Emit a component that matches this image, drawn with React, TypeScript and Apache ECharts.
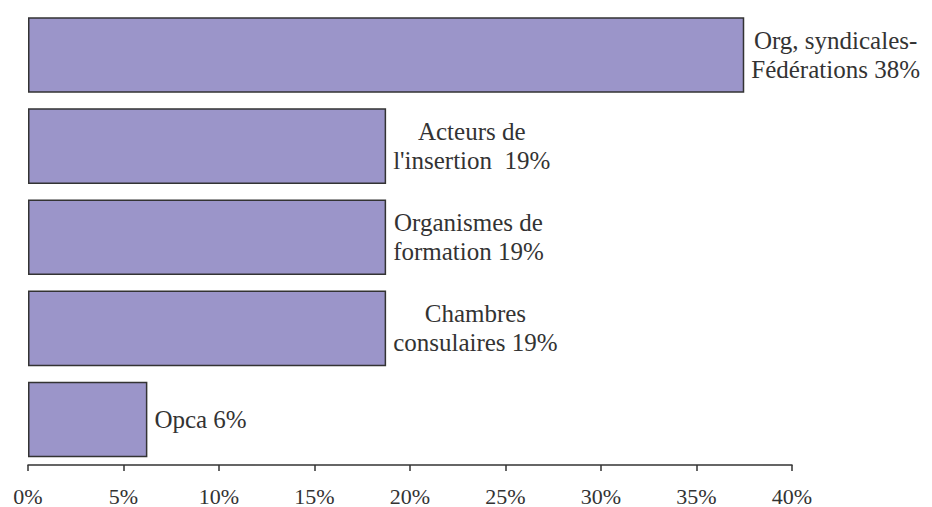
import React, { useEffect, useRef } from "react";
import * as echarts from "echarts";

const categories = [
  "Org, syndicales-|Fédérations",
  "Acteurs de|l'insertion ",
  "Organismes de|formation",
  "Chambres|consulaires",
  "Opca",
];
const values = [37.5, 18.75, 18.75, 18.75, 6.25];
const shownPercents = ["38%", "19%", "19%", "19%", "6%"];
const tickValues = [0, 5, 10, 15, 20, 25, 30, 35, 40];

const FONT = "Liberation Serif, Times New Roman, serif";

export default function App() {
  const ref = useRef<HTMLDivElement>(null);
  useEffect(() => {
    if (!ref.current) return;
    const chart = echarts.init(ref.current, undefined, { renderer: "svg" });
    chart.setOption({
      animation: false,
      backgroundColor: "#ffffff",
      grid: { left: 28, right: 140, top: 9.5, bottom: 40, containLabel: false },
      xAxis: {
        type: "value",
        min: tickValues[0],
        max: tickValues[tickValues.length - 1],
        interval: tickValues[1] - tickValues[0],
        axisLine: { show: true, lineStyle: { color: "#333", width: 1.5 } },
        axisTick: { show: true, length: 6, lineStyle: { color: "#333", width: 1.5 } },
        splitLine: { show: false },
        axisLabel: {
          formatter: "{value}%",
          color: "#333",
          fontFamily: FONT,
          fontSize: 22,
          margin: 20,
        },
      },
      yAxis: {
        type: "category",
        inverse: true,
        data: categories,
        axisLine: { show: false },
        axisTick: { show: false },
        axisLabel: { show: false },
      },
      series: [
        {
          type: "bar",
          data: values,
          barCategoryGap: "17%",
          itemStyle: { color: "#9b95c9", borderColor: "#333", borderWidth: 1.5 },
          label: {
            show: true,
            position: "right",
            distance: 7,
            fontFamily: FONT,
            fontSize: 25,
            color: "#333",
            formatter: (p: any) => {
              const lines = String(categories[p.dataIndex]).split("|");
              lines[lines.length - 1] += " " + shownPercents[p.dataIndex];
              return lines.map((l) => "{c|" + l + "}").join("\n");
            },
            rich: {
              c: {
                align: "center",
                fontFamily: FONT,
                fontSize: 25,
                color: "#333",
                lineHeight: 29,
              },
            },
          },
        },
      ],
    });
    return () => chart.dispose();
  }, []);
  return (
    <div
      ref={ref}
      style={{ position: "fixed", left: 0, top: 0, width: 932, height: 507 }}
    />
  );
}
